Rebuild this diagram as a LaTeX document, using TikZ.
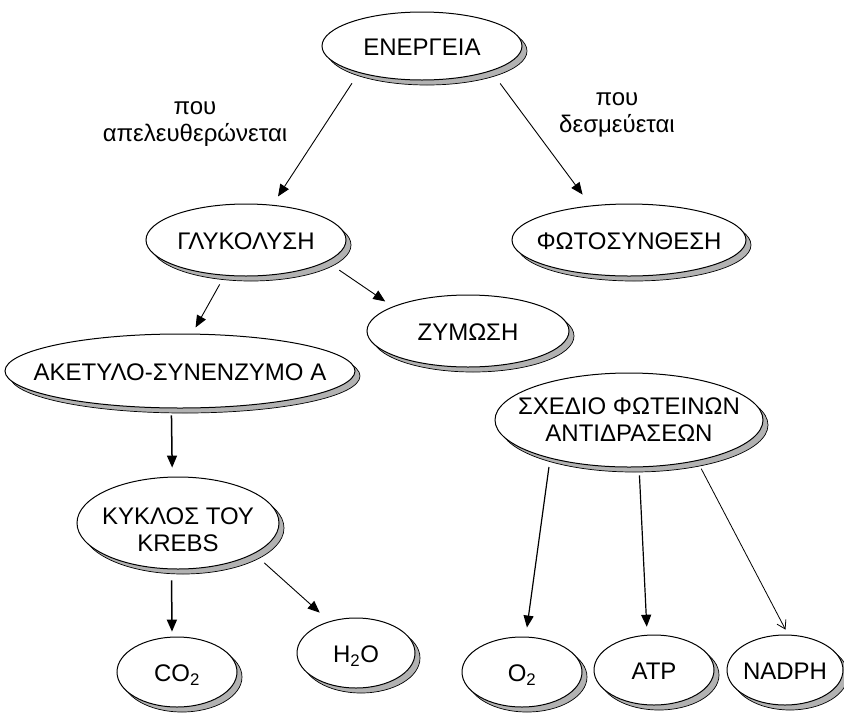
\documentclass[tikz,border=0pt]{standalone}
\usepackage{fontspec}
\setmainfont{Liberation Sans}
\usetikzlibrary{shapes.geometric,shadows,arrows.meta}
\newcommand{\intext}[2][-4pt]{\makebox[0pt]{\raisebox{#1}[\height][\depth]{\begin{tabular}{@{}c@{}}#2\end{tabular}}}}

\begin{document}
\begin{tikzpicture}[x=1pt,y=-1pt,
    font=\fontsize{24}{27}\selectfont,
    bubble/.style={draw, ellipse, fill=white, line width=1pt, inner sep=0pt,
      drop shadow={shadow xshift=5pt, shadow yshift=-5pt, fill=gray!60, draw=black, line width=0.7pt, opacity=1}},
    arr/.style={line width=0.9pt, -{Triangle[length=12pt,width=10pt]}},
    thickarr/.style={arr, line width=1.5pt},
    barb/.style={line width=0.8pt, -{Straight Barb[length=8pt,width=10pt]}}]
\useasboundingbox (0,0) rectangle (844,713);

            \node[bubble, minimum width=200pt, minimum height=68pt] (energy) at (422,46) {\intext{ΕΝΕΡΓΕΙΑ}};
            \node[bubble, minimum width=200pt, minimum height=72pt] (glyco) at (246,240) {\intext{ΓΛΥΚΟΛΥΣΗ}};
            \node[bubble, minimum width=234pt, minimum height=72pt] (photo) at (629,240) {\intext{ΦΩΤΟΣΥΝΘΕΣΗ}};
            \node[bubble, minimum width=202pt, minimum height=72pt] (ferm) at (468,331) {\intext{ΖΥΜΩΣΗ}};
            \node[bubble, minimum width=350pt, minimum height=74pt] (acetyl) at (180,371) {\intext{ΑΚΕΤΥΛΟ-ΣΥΝΕΝΖΥΜΟ Α}};
            \node[bubble, minimum width=268pt, minimum height=94pt] (lightrx) at (629,420) {\intext[-3pt]{ΣΧΕΔΙΟ ΦΩΤΕΙΝΩΝ\\ΑΝΤΙΔΡΑΣΕΩΝ}};
            \node[bubble, minimum width=202pt, minimum height=92pt] (krebs) at (178,523) {\intext[-10pt]{ΚΥΚΛΟΣ ΤΟΥ\\KREBS}};
            \node[bubble, minimum width=120pt, minimum height=70pt] (co2) at (177,672) {\intext{CO\textsubscript{2}}};
            \node[bubble, minimum width=118pt, minimum height=70pt] (h2o) at (356,653) {\intext{H\textsubscript{2}O}};
            \node[bubble, minimum width=120pt, minimum height=70pt] (o2) at (522,672) {\intext{O\textsubscript{2}}};
            \node[bubble, minimum width=120pt, minimum height=70pt] (atp) at (654,670) {\intext{ATP}};
            \node[bubble, minimum width=116pt, minimum height=70pt] (nadph) at (785,670) {\intext{NADPH}};

            \node[align=center] (released) at (195,124) {που\\απελευθερώνεται};
            \node[align=center] (bound) at (617,115) {που\\δεσμεύεται};

            \draw[arr, shorten <=12.5pt, shorten >=10pt] (energy.203.5) -- (glyco.53);
            \draw[arr, shorten <=15.4pt, shorten >=13.6pt] (energy.340.3) -- (photo.138);
            \draw[arr, shorten <=10pt, shorten >=7pt] (glyco.239.2) -- (acetyl.72.7);
            \draw[arr, shorten <=15pt, shorten >=9pt] (glyco.345.1) -- (ferm.162.5);
            \draw[thickarr, shorten <=7pt, shorten >=9pt] (acetyl.257.8) -- (krebs.97.4);
            \draw[thickarr, shorten <=11pt, shorten >=5pt] (krebs.262.6) -- (co2.98.2);
            \draw[arr, shorten <=13.6pt, shorten >=12.9pt] (krebs.338.9) -- (h2o.130.3);
            \draw[arr, line width=1.2pt, shorten <=8.6pt, shorten >=9.1pt] (lightrx.206.6) -- (o2.84);
            \draw[arr, line width=1.2pt, shorten <=8pt, shorten >=8pt] (lightrx.282) -- (atp.101.4);
            \draw[barb, shorten <=8.7pt, shorten >=5.6pt] (lightrx.329.7) -- (nadph.85.8);
        \end{tikzpicture}
\end{document}
